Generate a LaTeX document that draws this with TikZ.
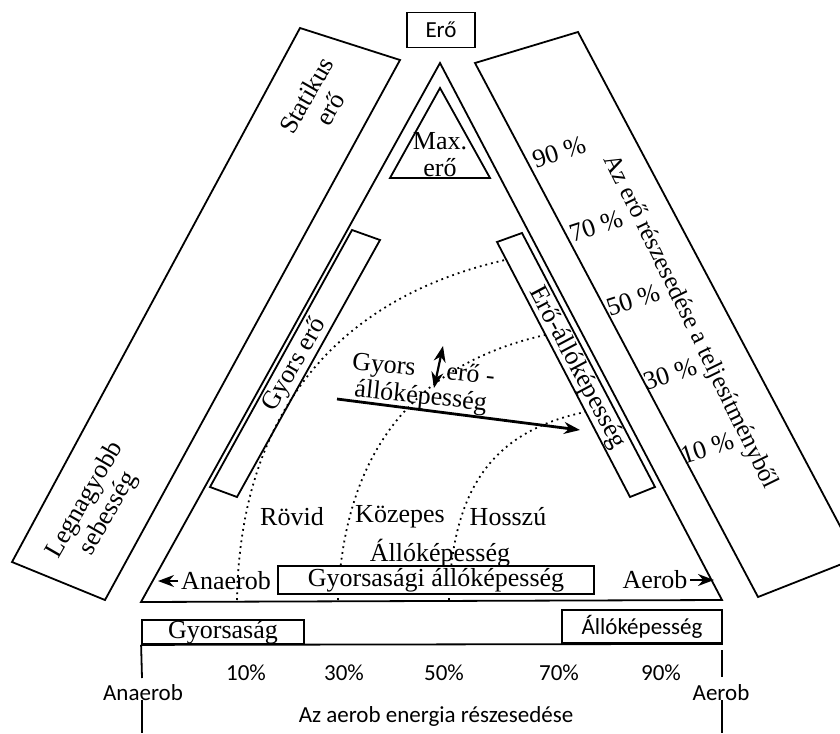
\documentclass[tikz,border=0pt]{standalone}
\usepackage{fontspec}
\setmainfont{Liberation Serif}
\newfontfamily\calibri{Carlito}
\usetikzlibrary{arrows.meta}

\begin{document}
\begin{tikzpicture}[x=0.5pt,y=-0.5pt,line width=0.9pt,
  lbl/.style={font=\fontsize{13}{13.5}\selectfont,inner sep=1pt,align=center},
  sans/.style={font=\calibri\fontsize{11.5}{13}\selectfont,inner sep=1pt},
  dots/.style={dotted,line width=0.9pt},
  tip/.style={-{Stealth[length=8pt,width=6pt]}}]
  \useasboundingbox (0,0) rectangle (840,733);
  \clip (0,0) rectangle (840,733);
  \draw (300,28) -- (400,60) -- (105,600) -- (12,562) -- cycle;
  \draw (475,63) -- (578,32) -- (857,558) -- (758,597) -- cycle;
  \draw (440,63) -- (722,600) -- (141,602) -- cycle;
  \draw (440,88) -- (490,178) -- (390,178) -- cycle;
  \draw (352,230) -- (380,240) -- (237,497) -- (210,487) -- cycle;
  \draw (497,242) -- (522,233) -- (655,487) -- (630,497) -- cycle;
  \draw[dots] (237,600) .. controls (240,420) and (330,300) .. (505,260);
  \draw[dots] (338,600) .. controls (345,430) and (435,360) .. (545,335);
  \draw[dots] (449,600) .. controls (452,480) and (500,430) .. (585,412);
  \node[sans,draw,minimum width=34pt,minimum height=17.5pt] (ero) at (441,30) {Erő};
  \node[lbl] (maxero) at (440,155) {Max.\\erő};
  \node[lbl,rotate=60] (statikus) at (318,102) {Statikus\\erő};
  \node[lbl,rotate=60] (legnagyobb) at (97,507) {Legnagyobb\\sebesség};
  \node[lbl,rotate=60] (gyorsero) at (295,365) {Gyors erő};
  \node[lbl,rotate=-62] (eroallo) at (577,368) {Erő-állóképesség};
  \node[lbl,rotate=-64,font=\fontsize{12.5}{13}\selectfont] (reszes) at (690,322) {Az erő részesedése a teljesítményből};
  \foreach \p [count=\i from 0] in {90,70,50,30,10}
    \node[lbl,rotate=18] (pct\p) at (559+37*\i,152+74*\i) {\p\ \%};
  \node[lbl,rotate=-6] (gyea) at (422,384) {Gyors\hspace{1.2em}erő -\\állóképesség};
  \coordinate (fa) at (337,399);
  \coordinate (fb) at (580,430);
  \draw[tip,line width=1.4pt] (fa) -- (fb);
  \coordinate (va) at (443,346);
  \coordinate (vb) at (434,388);
  \draw[{Stealth[length=8pt,width=6pt]}-{Stealth[length=8pt,width=6pt]},line width=1.1pt] (va) -- (vb);
  \node[lbl] (rovid) at (292,517) {Rövid};
  \node[lbl] (kozepes) at (400,517) {Közepes};
  \node[lbl] (hosszu) at (508,517) {Hosszú};
  \node[lbl] (allo) at (440,553) {Állóképesség};
  \node[lbl,draw,fill=white,minimum width=158pt,minimum height=12.5pt] (gyall) at (436,580) {Gyorsasági állóképesség};
  \node[lbl] (anaerobL) at (226,581) {Anaerob};
  \coordinate (anTip) at (158,581);
  \draw[tip] (anaerobL.west) -- (anTip);
  \node[lbl] (aerobR) at (655,580) {Aerob};
  \coordinate (aeTip) at (714,580);
  \draw[tip] (aerobR.east) -- (aeTip);
  \node[lbl,draw,minimum width=81pt,minimum height=12pt,inner sep=0pt] (gyorsasag) at (223,632) {Gyorsaság};
  \node[sans,draw,minimum width=80pt,minimum height=16.5pt] (allobox) at (642,626.5) {Állóképesség};
  \draw (gyorsasag.south west) -- (allobox.south east);
  \coordinate (tl) at (142,678);
  \coordinate (tr1) at (722,650);
  \coordinate (tr2) at (722,677);
  \draw (gyorsasag.south west) -- (tl);
  \draw (tr1) -- (tr2);
  \foreach \p/\x in {10/246,30/344,50/444,70/559,90/661}
    \node[sans] (sc\p) at (\x,673) {\p\%};
  \node[sans] (anaerobB) at (143,693) {Anaerob};
  \node[sans] (aerobB) at (721,693) {Aerob};
  \coordinate (bl1) at (142,700);
  \coordinate (bl2) at (142,733);
  \coordinate (br1) at (722,700);
  \coordinate (br2) at (722,733);
  \draw (bl1) -- (bl2);
  \draw (br1) -- (br2);
  \node[sans] (aerobtitle) at (436,716) {Az aerob energia részesedése};
\end{tikzpicture}
\end{document}
